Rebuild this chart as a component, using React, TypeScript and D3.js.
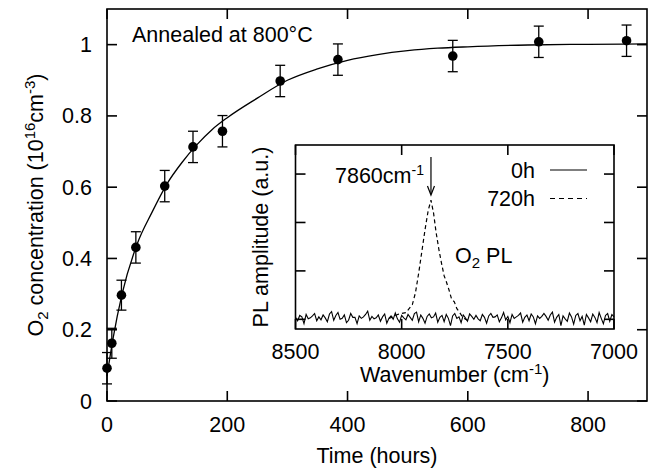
import React from "react";
import * as d3 from "d3";

// Main data: O2 concentration vs annealing time
const timeHours = [0, 8, 24, 48, 96, 143, 192, 288, 384, 575, 718, 864];
const concentration = [0.092, 0.162, 0.297, 0.431, 0.603, 0.713, 0.757, 0.898, 0.958, 0.968, 1.008, 1.011];
const concErr = [0.044, 0.042, 0.042, 0.044, 0.044, 0.044, 0.044, 0.044, 0.044, 0.044, 0.044, 0.044];

// Fitted curve
const fitT = [0, 10, 25, 50, 75, 100, 125, 150, 175, 200, 250, 300, 350, 400, 450, 500, 550, 600, 700, 800, 898];
const fitV = [0.07, 0.175, 0.3, 0.44, 0.53, 0.61, 0.67, 0.72, 0.762, 0.795, 0.85, 0.9, 0.932, 0.956, 0.972, 0.983, 0.99, 0.994, 0.999, 1.001, 1.002];

const xTicks = [0, 200, 400, 600, 800];
const yTicks = [0, 0.2, 0.4, 0.6, 0.8, 1];

// Inset: PL spectra
const insetXTicks = [8500, 8000, 7500, 7000];
const insetYTicks = [0, 1, 2, 3];
const spec0hStart = 8500;
const spec0hStep = -10;
const spec0h = [
  0.04, -0.03, 0.08, 0.05, -0.09, 0.1, 0.01, 0.03, 0.07, 0.12,
  -0.03, 0.05, -0.01, 0.09, 0.03, -0.05, 0.11, 0.16, -0.02, 0.08,
  0.14, 0.0, 0.02, 0.09, -0.07, -0.02, 0.12, 0.04, 0.04, -0.09,
  0.07, 0.02, 0.05, 0.1, 0.17, -0.02, 0.06, 0.01, 0.03, 0.09,
  -0.04, 0.05, 0.11, -0.08, 0.02, 0.07, 0.0, 0.13, 0.01, -0.06,
  0.08, 0.03, -0.01, 0.1, 0.04, -0.02, 0.12, 0.15, -0.05, 0.09,
  0.02, -0.08, 0.06, 0.11, 0.03, 0.05, 0.13, -0.06, 0.04, 0.08,
  -0.05, 0.1, 0.02, -0.13, 0.07, 0.12, 0.02, 0.05, -0.07, 0.09,
  0.03, -0.04, 0.11, 0.06, 0.0, 0.08, 0.01, -0.03, 0.1, 0.04,
  -0.08, 0.07, 0.12, 0.04, 0.05, 0.09, -0.05, 0.03, 0.14, -0.01,
  0.06, -0.07, 0.1, 0.02, 0.05, 0.08, 0.13, -0.06, 0.04, 0.09,
  -0.03, 0.11, 0.05, -0.09, 0.07, 0.02, 0.06, 0.12, 0.06, -0.02,
  0.09, 0.15, -0.06, 0.04, 0.1, -0.13, 0.07, 0.01, -0.04, 0.13,
  0.05, -0.1, 0.08, 0.12, -0.03, 0.06, -0.12, 0.1, 0.03, -0.05,
  0.11, 0.04, -0.07, 0.14, 0.02, -0.09, 0.08, 0.12, -0.04, 0.1,
  0.05,
];
const spec720W = [8060, 8040, 8020, 8000, 7980, 7965, 7950, 7935, 7920, 7905, 7890, 7875, 7862, 7850, 7838, 7825, 7812, 7800, 7790, 7778, 7765, 7752, 7740, 7728, 7715, 7700, 7680];
const spec720V = [0.02, 0.05, 0.1, 0.12, 0.14, 0.22, 0.3, 0.55, 0.95, 1.4, 1.85, 2.25, 2.46, 2.2, 1.8, 1.45, 1.15, 0.9, 0.78, 0.62, 0.42, 0.36, 0.22, 0.15, 0.06, 0.0, -0.03];

const FONT = "'Liberation Sans', Arial, Helvetica, sans-serif";

export default function App() {
  const W = 655, H = 469;
  const x = d3.scaleLinear().domain([0, 898]).range([107, 647]);
  const y = d3.scaleLinear().domain([0, 1.1]).range([401, 9]);
  const ix = d3.scaleLinear().domain([8500, 7000]).range([295.5, 614]);
  const iy = d3.scaleLinear().domain([-0.2, 3.6]).range([329, 145]);

  const fitLine = d3.line<number>().x((_, i) => x(fitT[i])).y((v) => y(v)).curve(d3.curveMonotoneX);
  const specLine0 = d3.line<number>().x((_, i) => ix(spec0hStart + i * spec0hStep)).y((v) => iy(v));
  const specLine720 = d3.line<number>().x((_, i) => ix(spec720W[i])).y((v) => iy(v));

  const [x0, x1] = x.range();
  const [y0, y1] = y.range();
  const [ix0, ix1] = ix.range();
  const [iy0, iy1] = iy.range();
  const tl = 10;
  const sw = 1.6;
  const fs = 21.5;

  const peakX = ix(7862);

  return (
    <svg width={W} height={H} style={{ position: "absolute", left: 0, top: 0, background: "#fff" }} fontFamily={FONT}>
      <rect x={0} y={0} width={W} height={H} fill="#fff" />
      {/* main frame */}
      <rect x={x0} y={y1} width={x1 - x0} height={y0 - y1} fill="none" stroke="#000" strokeWidth={sw} />
      {xTicks.map((t) => (
        <g key={"xt" + t}>
          <line x1={x(t)} x2={x(t)} y1={y0} y2={y0 - tl} stroke="#000" strokeWidth={sw} />
          <line x1={x(t)} x2={x(t)} y1={y1} y2={y1 + tl} stroke="#000" strokeWidth={sw} />
          <text x={x(t)} y={432} fontSize={fs} textAnchor="middle">{t}</text>
        </g>
      ))}
      {yTicks.map((t) => (
        <g key={"yt" + t}>
          <line x1={x0} x2={x0 + tl} y1={y(t)} y2={y(t)} stroke="#000" strokeWidth={sw} />
          <line x1={x1} x2={x1 - tl} y1={y(t)} y2={y(t)} stroke="#000" strokeWidth={sw} />
          <text x={92} y={y(t) + 7.5} fontSize={fs} textAnchor="end">{t}</text>
        </g>
      ))}
      <text x={(x0 + x1) / 2} y={463} fontSize={fs} textAnchor="middle">Time (hours)</text>
      <text transform={`translate(43,205) rotate(-90)`} fontSize={fs} textAnchor="middle">
        O<tspan fontSize={15} dy={5}>2</tspan>
        <tspan dy={-5}> concentration (10</tspan>
        <tspan fontSize={15} dy={-8}>16</tspan>
        <tspan dy={8}>cm</tspan>
        <tspan fontSize={15} dy={-8}>-3</tspan>
        <tspan dy={8}>)</tspan>
      </text>
      <text x={132} y={41.5} fontSize={fs}>Annealed at 800°C</text>

      {/* fit curve */}
      <path d={fitLine(fitV) || ""} fill="none" stroke="#000" strokeWidth={1.3} />
      {/* error bars and points */}
      {timeHours.map((t, i) => {
        const cx = x(t);
        const top = y(concentration[i] + concErr[i]);
        const bot = y(concentration[i] - concErr[i]);
        return (
          <g key={"p" + i}>
            <line x1={cx} x2={cx} y1={top} y2={bot} stroke="#000" strokeWidth={1.3} />
            <line x1={cx - 5} x2={cx + 5} y1={top} y2={top} stroke="#000" strokeWidth={1.3} />
            <line x1={cx - 5} x2={cx + 5} y1={bot} y2={bot} stroke="#000" strokeWidth={1.3} />
            <circle cx={cx} cy={y(concentration[i])} r={4.8} fill="#000" />
          </g>
        );
      })}

      {/* inset */}
      <rect x={ix0} y={iy1} width={ix1 - ix0} height={iy0 - iy1} fill="#fff" stroke="none" />
      <path d={specLine0(spec0h) || ""} fill="none" stroke="#000" strokeWidth={1.1} />
      <path d={specLine720(spec720V) || ""} fill="none" stroke="#000" strokeWidth={1.2} strokeDasharray="4,3" />
      <rect x={ix0} y={iy1} width={ix1 - ix0} height={iy0 - iy1} fill="none" stroke="#000" strokeWidth={sw} />
      {insetXTicks.map((t) => (
        <g key={"ixt" + t}>
          <line x1={ix(t)} x2={ix(t)} y1={iy0} y2={iy0 - tl} stroke="#000" strokeWidth={sw} />
          <line x1={ix(t)} x2={ix(t)} y1={iy1} y2={iy1 + tl} stroke="#000" strokeWidth={sw} />
          <text x={ix(t)} y={359} fontSize={fs} textAnchor="middle">{t}</text>
        </g>
      ))}
      {insetYTicks.map((t) => (
        <g key={"iyt" + t}>
          <line x1={ix0} x2={ix0 + tl} y1={iy(t)} y2={iy(t)} stroke="#000" strokeWidth={sw} />
          <line x1={ix1} x2={ix1 - tl} y1={iy(t)} y2={iy(t)} stroke="#000" strokeWidth={sw} />
        </g>
      ))}
      <text x={(ix0 + ix1) / 2} y={382} fontSize={fs} textAnchor="middle">
        Wavenumber (cm<tspan fontSize={15} dy={-8}>-1</tspan><tspan dy={8}>)</tspan>
      </text>
      <text transform={`translate(268,${(iy0 + iy1) / 2}) rotate(-90)`} fontSize={fs} textAnchor="middle">PL amplitude (a.u.)</text>
      {/* arrow */}
      <line x1={peakX} x2={peakX} y1={157} y2={194} stroke="#000" strokeWidth={1.2} />
      <path d={`M${peakX - 3.5},${186} L${peakX},${195} L${peakX + 3.5},${186}`} fill="none" stroke="#000" strokeWidth={1.2} />
      <text x={335} y={183} fontSize={fs}>
        7860cm<tspan fontSize={14} dy={-8}>-1</tspan>
      </text>
      {/* legend */}
      <text x={535} y={178} fontSize={fs} textAnchor="end">0h</text>
      <line x1={550} x2={587} y1={170} y2={170} stroke="#000" strokeWidth={1.1} />
      <text x={535} y={206} fontSize={fs} textAnchor="end">720h</text>
      <line x1={550} x2={587} y1={198.5} y2={198.5} stroke="#000" strokeWidth={1.1} strokeDasharray="5,4" />
      <text x={455} y={263} fontSize={fs}>
        O<tspan fontSize={15} dy={5}>2</tspan><tspan dy={-5}> PL</tspan>
      </text>
    </svg>
  );
}
